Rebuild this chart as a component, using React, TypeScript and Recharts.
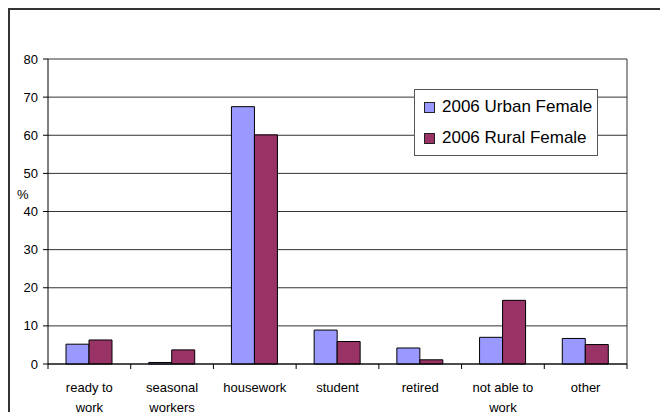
import React from 'react';
import { BarChart, Bar, XAxis, YAxis, CartesianGrid, Legend } from 'recharts';

// Activity status of women, 2006 (%)
const categories = ['ready to\nwork', 'seasonal\nworkers', 'housework', 'student', 'retired', 'not able to\nwork', 'other'];
const urbanFemale = [5.2, 0.4, 67.5, 8.9, 4.2, 7.0, 6.7];
const ruralFemale = [6.3, 3.7, 60.1, 5.9, 1.1, 16.7, 5.1];
const yTicks = [0, 10, 20, 30, 40, 50, 60, 70, 80];

const URBAN = '#9999ff';
const RURAL = '#993366';

const data = categories.map((name, i) => ({
  name,
  urban: urbanFemale[i],
  rural: ruralFemale[i],
}));

const CHART_W = 658;
const CHART_H = 410;
const MARGIN = { top: 49, right: 41, bottom: 0, left: 0 };
const Y_AXIS_W = 38;
const X_AXIS_H = 56;
const PLOT_W = CHART_W - MARGIN.left - MARGIN.right - Y_AXIS_W;
const BAND = PLOT_W / categories.length;

// Category label split over lines, with Excel-style tick marks on band edges
const CategoryTick = (props: any) => {
  const { x, y, payload, index } = props;
  const lines = String(payload.value).split('\n');
  return (
    <g>
      <line x1={x - BAND / 2} x2={x - BAND / 2} y1={y} y2={y + 5} stroke="#000" />
      {index === categories.length - 1 && (
        <line x1={x + BAND / 2} x2={x + BAND / 2} y1={y} y2={y + 5} stroke="#000" />
      )}
      <text x={x} y={y} textAnchor="middle" fontSize={13} fill="#000">
        {lines.map((l, i) => (
          <tspan key={i} x={x} dy={i === 0 ? 28 : 20}>
            {l}
          </tspan>
        ))}
      </text>
    </g>
  );
};

const LegendBox = () => (
  <div
    style={{
      width: 182,
      height: 65,
      border: '1px solid #555',
      background: '#fff',
      boxSizing: 'content-box',
      fontSize: 17,
      color: '#000',
    }}
  >
    {[
      { label: '2006 Urban Female', color: URBAN },
      { label: '2006 Rural Female', color: RURAL },
    ].map((it, i) => (
      <div key={i} style={{ display: 'flex', alignItems: 'center', height: 34, paddingLeft: 9, marginTop: i === 0 ? 0 : -3 }}>
        <span
          style={{
            display: 'inline-block',
            width: 9,
            height: 9,
            background: it.color,
            border: '1px solid #222',
            marginRight: 7,
          }}
        />
        {it.label}
      </div>
    ))}
  </div>
);

export default function App() {
  return (
    <div
      style={{
        width: CHART_W,
        height: 402,
        borderTop: '2px solid #333',
        borderLeft: '2px solid #333',
        fontFamily: '"Liberation Sans", Arial, sans-serif',
        background: '#fff',
      }}
    >
      <BarChart
        width={CHART_W}
        height={CHART_H}
        data={data}
        margin={MARGIN}
        barGap={0}
        barCategoryGap={18}
      >
        <CartesianGrid
          stroke="#333"
          horizontal
          vertical
          verticalCoordinatesGenerator={({ offset }: any) => [offset.left + offset.width]}
        />
        <XAxis
          dataKey="name"
          height={X_AXIS_H}
          stroke="#000"
          tickLine={false}
          tickSize={0}
          tickMargin={0}
          interval={0}
          tick={<CategoryTick />}
        />
        <YAxis
          width={Y_AXIS_W}
          domain={[0, 80]}
          ticks={yTicks}
          stroke="#000"
          tickSize={5}
          tickMargin={5}
          tick={{ fill: '#000', fontSize: 13 }}
          label={(p: any) => (
            <text x={p.viewBox.x + 7} y={p.viewBox.y + p.viewBox.height / 2 - 13} fontSize={13} fill="#000">
              %
            </text>
          )}
        />
        <Legend
          layout="vertical"
          verticalAlign="middle"
          align="center"
          content={<LegendBox />}
          wrapperStyle={{ left: 404, top: 79, width: 'auto' }}
        />
        <Bar dataKey="urban" name="2006 Urban Female" fill={URBAN} stroke="#000" strokeWidth={1} isAnimationActive={false} />
        <Bar dataKey="rural" name="2006 Rural Female" fill={RURAL} stroke="#000" strokeWidth={1} isAnimationActive={false} />
      </BarChart>
    </div>
  );
}
